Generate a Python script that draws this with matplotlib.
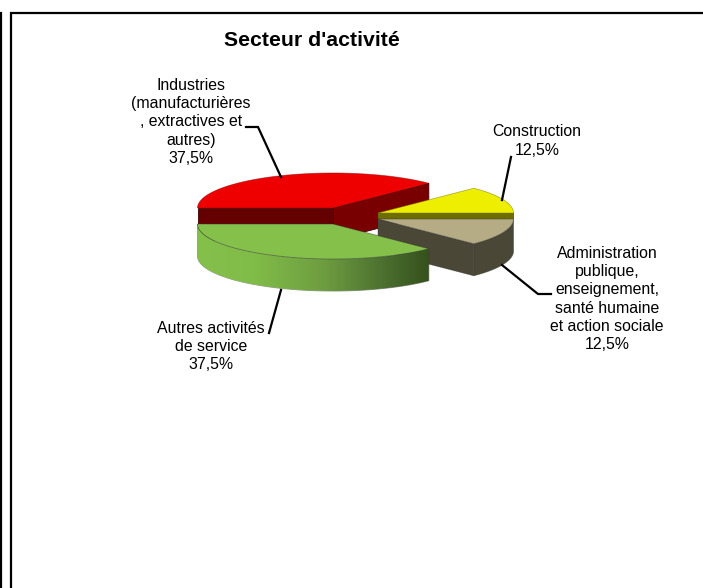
import numpy as np
import matplotlib
matplotlib.use("Agg")
import matplotlib.pyplot as plt
from matplotlib.patches import Polygon
from matplotlib.colors import LinearSegmentedColormap

plt.rcParams['font.family'] = ['Liberation Sans', 'DejaVu Sans']

title = "Secteur d'activité"
categories = ["Industries\n(manufacturières\n, extractives et\nautres)",
              "Construction",
              "Administration\npublique,\nenseignement,\nsanté humaine\net action sociale",
              "Autres activités\nde service"]
values = [37.5, 12.5, 12.5, 37.5]
value_labels = ["37,5%", "12,5%", "12,5%", "37,5%"]

top_colors = ["#EE0000", "#EEEE00", "#B5AB85", "#84C04A"]
wall_colors = ["#780000", "#6E6E00", "#4A4737", "#84C04A"]
centers = [(333, 208), (378, 213), (378, 219), (333, 224)]
label_pos = [(191, 122), (537, 141), (607, 299), (211, 346.5)]
leaders = [[(246, 127), (258, 127), (281, 177)],
           [(511, 157), (502, 200)],
           [(502, 265), (538, 294), (551, 294)],
           [(281, 290), (269, 333)]]

RX, RY, DEPTH = 135.5, 35, 32
START = 180.0

fig = plt.figure(figsize=(7.03, 5.88), dpi=100)
ax = fig.add_axes([0, 0, 1, 1])
ax.axis("off")


def arc(c, a0, a1, n=120, dy=0):
    t = np.radians(np.linspace(a0, a1, n))
    return np.column_stack([c[0] + RX * np.cos(t), c[1] - RY * np.sin(t) + dy])


# slice angles from the values (clockwise from the left)
cum = START - np.cumsum([0] + values) * 360 / sum(values)

for i in [0, 1, 2, 3]:
    a0, a1 = cum[i], cum[i + 1]
    c = centers[i]
    top = arc(c, a0, a1)
    z = 1 + i * 2
    if i == 0:
        # red: two inner cut walls seen from the front
        p_end = top[-1]
        ax.add_patch(Polygon([c, p_end, p_end + [0, DEPTH], (c[0], c[1] + DEPTH)],
                             fc=wall_colors[0], ec="#3a0000", lw=0.6, zorder=z))
        ax.add_patch(Polygon([top[0], c, (c[0], c[1] + DEPTH), top[0] + [0, DEPTH]],
                             fc="#640000", ec="#3a0000", lw=0.6, zorder=z))
        ax.add_patch(Polygon(np.vstack([[c], top]), fc=top_colors[0], ec="#80000080", lw=0.6, zorder=z + 1))
    elif i == 1:
        ax.add_patch(Polygon(np.vstack([[c], top]), fc=top_colors[1], ec="#70700080", lw=0.6, zorder=z))
        ax.add_patch(Polygon([c, top[-1], top[-1] + [0, 6], (c[0], c[1] + 6)],
                             fc=wall_colors[1], ec="none", zorder=z))
    elif i == 2:
        p_end = top[-1]
        ax.add_patch(Polygon(np.vstack([top, arc(c, a1, a0, dy=DEPTH)]),
                             fc=wall_colors[2], ec="#33333380", lw=0.6, zorder=z))
        ax.add_patch(Polygon([c, p_end, p_end + [0, DEPTH], (c[0], c[1] + DEPTH)],
                             fc=wall_colors[2], ec="#33333380", lw=0.6, zorder=z))
        ax.add_patch(Polygon(np.vstack([[c], top]), fc=top_colors[2], ec="#33333380", lw=0.6, zorder=z + 1))
    else:
        wall = np.vstack([top, arc(c, a1, a0, dy=DEPTH)])
        patch = Polygon(wall, fc="none", ec="#33333380", lw=0.7, zorder=z)
        ax.add_patch(patch)
        cmap = LinearSegmentedColormap.from_list(
            "g", [(0, "#84C04A"), (0.25, "#80BC48"), (0.55, "#6E9C40"), (0.8, "#4C7030"), (1, "#35501C")])
        im = ax.imshow(np.linspace(0, 1, 256)[None, :], cmap=cmap, aspect="auto",
                       extent=(197, 430, 300, 200), zorder=z)
        im.set_clip_path(patch)
        ax.add_patch(Polygon(np.vstack([[c], top]), fc=top_colors[3], ec="#33333380", lw=0.6, zorder=z + 1))

for cat, val, pos, pts in zip(categories, value_labels, label_pos, leaders):
    ax.text(pos[0], pos[1], cat + "\n" + val, ha="center", va="center",
            fontsize=11.4, color="black", linespacing=1.28, zorder=20)
    xs, ys = zip(*pts)
    ax.plot(xs, ys, color="black", lw=1.6, solid_joinstyle="miter", zorder=19)

ax.text(311.5, 40, title, ha="center", va="center", fontsize=15.3, fontweight="bold", zorder=20)

# page frame
ax.plot([11, 11, 703], [588, 13, 13], color="black", lw=1.6, solid_joinstyle="miter", zorder=20)
ax.plot([0.8, 0.8], [13, 588], color="black", lw=1.6, zorder=20)

ax.set_xlim(0, 703)
ax.set_ylim(588, 0)
fig.savefig("out.png", dpi=100)
